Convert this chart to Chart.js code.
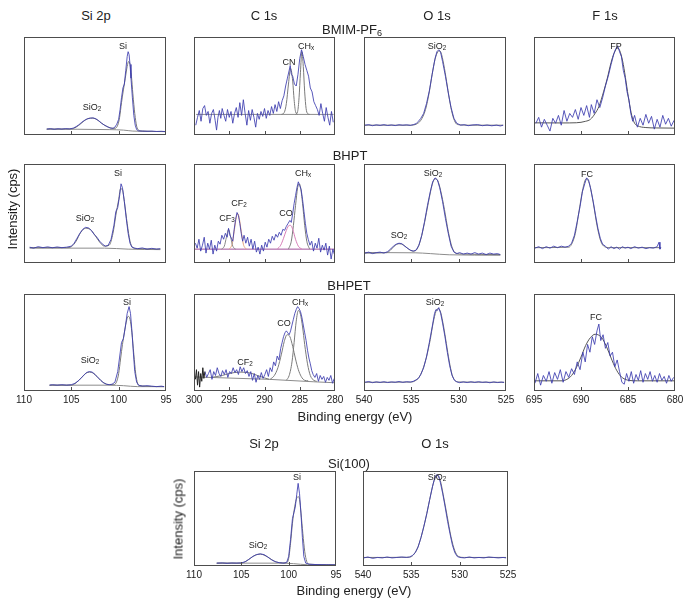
<!DOCTYPE html>
<html>
<head>
<meta charset="utf-8">
<script src="https://cdn.jsdelivr.net/npm/chart.js@4"></script>
<style>
body { margin:0; width:685px; height:601px; position:relative; background:#fff; font-family:"Liberation Sans", Arial, sans-serif; color:#222; overflow:hidden; }
canvas { position:absolute; z-index:1; }
.t { position:absolute; z-index:5; white-space:nowrap; transform:translate(-50%,-50%); line-height:1; }
.h { font-size:13px; }
.lb { font-size:9px; }
.rot { transform:translate(-50%,-50%) rotate(-90deg); color:#1a1a1a; }
sub { font-size:70%; vertical-align:-0.3em; line-height:0; }
</style>
</head>
<body>
<script>
// ---- data: [binding energy (eV), intensity (% of panel height)] ----
const si2pTicks = [110, 105, 100, 95];
const c1sTicks = [300, 295, 290, 285, 280];
const o1sTicks = [540, 535, 530, 525];
const f1sTicks = [695, 690, 685, 680];

// BMIM-PF6
const bmimSiRaw = [[107.6,6],[107.2,6.5],[106.8,5.8],[106.4,6.4],[106,6],[105.6,6.5],[105.2,6.2],[104.8,7],[104.5,8.5],[104.2,10.5],[103.9,13],[103.6,15],[103.3,16.5],[103,17.2],[102.7,17.5],[102.4,16.5],[102.1,14.5],[101.8,12],[101.5,10],[101.2,8.5],[100.9,7.2],[100.6,6.8],[100.4,8],[100.2,11],[100,16],[99.85,26],[99.7,38],[99.55,48],[99.4,52],[99.25,66],[99.1,80],[99,85],[98.9,82],[98.8,72],[98.7,58],[98.55,38],[98.4,20],[98.25,10],[98.1,5.5],[97.9,4.2],[97.5,4],[97,3.8],[96.5,4],[96,3.6],[95.5,3.8],[95.1,3.5]];
const bmimSiFit = [[107.6,6],[105,6.2],[104.5,8],[104,11.5],[103.5,15.5],[103,17.2],[102.6,17],[102.2,15],[101.8,12],[101.3,9],[100.8,7],[100.4,6.8],[100.1,10],[99.9,18],[99.7,33],[99.5,46],[99.3,58],[99.1,70],[98.95,75],[98.8,72],[98.65,60],[98.5,42],[98.3,22],[98.1,9],[97.9,5],[97.5,4],[95.1,3.5]];
const bmimSiBg = [[107.6,6],[101,5.5],[99.5,5],[98.5,4],[95.1,3.5]];

const bmimCRaw = [[299.75,10],[299.5,18],[299.25,25],[299,14],[298.75,27],[298.5,30],[298.25,20],[298,24],[297.75,12],[297.5,22],[297.25,26],[297,15],[296.8,5],[296.6,18],[296.4,25],[296.2,17],[296,27],[295.75,20],[295.5,14],[295.25,26],[295,18],[294.75,24],[294.5,12],[294.25,22],[294,28],[293.75,18],[293.5,33],[293.25,20],[293,36],[292.75,22],[292.5,10],[292.25,25],[292,15],[291.75,26],[291.5,18],[291.25,8],[291,22],[290.75,16],[290.5,24],[290.25,19],[290,27],[289.75,17],[289.5,25],[289.25,20],[289,29],[288.75,22],[288.5,31],[288.25,24],[288,34],[287.75,27],[287.5,35],[287.25,40],[287,50],[286.75,58],[286.5,66],[286.35,71],[286.2,62],[286,60],[285.75,52],[285.5,50],[285.25,62],[285,78],[284.75,87],[284.5,80],[284.25,72],[284,66],[283.75,60],[283.5,48],[283.25,44],[283,34],[282.75,30],[282.5,26],[282.25,20],[282,32],[281.75,22],[281.5,14],[281.25,28],[281,18],[280.75,10],[280.5,24],[280.25,13]];
const bmimCN = [[287.6,21],[287.2,23],[286.9,32],[286.6,52],[286.3,68],[286,55],[285.8,36],[285.6,24],[285.3,21]];
const bmimCHx = [[285.6,21],[285.3,24],[285.1,38],[284.9,64],[284.7,85],[284.5,70],[284.3,44],[284.1,27],[283.9,22],[283.6,21]];
const bmimCBg = [[299.7,21],[280.2,21]];

const bmimORaw = [[539.9,10],[539.5,10.6],[539.1,9.5],[538.7,10.4],[538.3,9.8],[537.9,10.6],[537.5,9.7],[537.1,10.3],[536.7,9.6],[536.3,10.5],[535.9,10],[535.5,10.4],[535.1,9.8],[534.8,10.6],[534.5,11.5],[534.25,14],[534,17],[533.7,22],[533.4,32],[533.1,45],[532.8,62],[532.5,78],[532.3,85],[532.1,87],[531.9,84],[531.7,75],[531.4,60],[531.1,43],[530.8,28],[530.5,17],[530.2,12],[529.8,10],[529.4,10.6],[529,9.5],[528.5,10.3],[528,10.6],[527.5,9.5],[527,10.2],[526.5,9.4],[526,10.1],[525.6,9.2],[525.3,10]];
const bmimOFit = [[540,10],[535,10],[534.5,11],[534,15],[533.5,26],[533.1,44],[532.8,62],[532.5,77],[532.2,85],[532,86],[531.8,82],[531.5,68],[531.2,50],[530.9,32],[530.6,19],[530.3,12],[530,10.5],[529,10],[525.3,10]];

const bmimFRaw = [[694.8,12],[694.5,18],[694.2,8],[693.9,16],[693.6,10],[693.3,4],[693,17],[692.7,12],[692.4,20],[692.1,10],[691.8,25],[691.5,14],[691.2,22],[690.9,18],[690.6,26],[690.3,16],[690,28],[689.7,20],[689.4,30],[689.1,18],[688.9,31],[688.6,22],[688.3,36],[688,28],[687.7,38],[687.4,50],[687.1,60],[686.8,72],[686.5,83],[686.3,88],[686.1,91],[685.9,85],[685.7,80],[685.5,66],[685.3,58],[685.1,44],[684.9,36],[684.7,22],[684.5,14],[684.3,20],[684,8],[683.7,17],[683.4,10],[683.1,21],[682.8,12],[682.5,19],[682.2,6],[681.9,16],[681.6,8],[681.3,20],[681,11],[680.7,17],[680.4,9],[680.1,15]];
const bmimFFit = [[695,12.4],[692,12.3],[690.5,12.5],[689.5,14],[689,16],[688.5,22],[688.1,29],[687.6,44],[687.2,58],[686.8,74],[686.5,83],[686.1,89],[685.8,84],[685.5,72],[685.2,54],[684.9,35],[684.6,20],[684.3,12],[684,9.5],[683.1,7.6],[682,7.2],[680,7]];

// BHPT
const bhptSiRaw = [[109.4,16],[109,15],[108.5,16.5],[108,15.5],[107.5,16.3],[107,15.4],[106.5,16.2],[106,15.5],[105.5,16],[105,17],[104.7,20],[104.4,25],[104.1,30],[103.8,34],[103.5,36],[103.2,35.5],[102.9,33],[102.6,29],[102.3,26],[102,22],[101.7,19],[101.4,17],[101.1,18],[100.8,24],[100.5,38],[100.3,52],[100.1,56],[99.9,68],[99.75,80],[99.6,76],[99.4,62],[99.2,45],[99,30],[98.8,20],[98.6,16],[98.3,15],[98,14.5],[97.5,15.2],[97,14],[96.5,14.8],[96,14],[95.6,14.5]];
const bhptSiFit = [[109.4,15.5],[105.5,15.5],[105,16.5],[104.5,22],[104,31],[103.5,35],[103,34],[102.5,28],[102,21],[101.5,17],[101,18],[100.6,30],[100.3,48],[100,64],[99.8,75],[99.6,74],[99.4,62],[99.1,40],[98.8,22],[98.5,15.5],[98,14.5],[95.6,14]];
const bhptSiBg = [[109.4,15],[101.5,15],[99,14],[95.6,13.5]];

const bhptCRaw = [[299.8,20],[299.55,15],[299.3,24],[299.05,12],[298.8,18],[298.55,26],[298.3,10],[298.05,20],[297.8,14],[297.55,23],[297.3,9],[297.05,18],[296.8,12],[296.55,22],[296.3,19],[296.05,28],[295.8,24],[295.55,30],[295.3,26],[295.1,35],[294.9,28],[294.7,25],[294.5,22],[294.3,34],[294.1,44],[293.9,51],[293.7,48],[293.5,40],[293.3,30],[293.1,22],[292.9,28],[292.65,20],[292.4,26],[292.15,17],[291.9,24],[291.65,14],[291.4,22],[291.15,11],[290.9,16],[290.65,9],[290.4,18],[290.15,12],[289.9,21],[289.65,16],[289.4,24],[289.15,20],[288.9,27],[288.65,23],[288.4,29],[288.15,26],[287.9,31],[287.65,28],[287.4,34],[287.15,33],[286.9,37],[286.65,40],[286.4,43],[286.2,41],[286,50],[285.8,60],[285.6,68],[285.4,76],[285.2,82],[285,78],[284.8,74],[284.6,64],[284.4,52],[284.2,40],[284,30],[283.8,24],[283.55,18],[283.3,22],[283.05,12],[282.8,20],[282.55,15],[282.3,25],[282.05,11],[281.8,18],[281.55,13],[281.3,20],[281.05,8],[280.8,17],[280.55,4],[280.3,14],[280.1,9]];
const bhptCF3 = [[296.1,14],[295.7,17],[295.4,26],[295.1,34],[294.8,26],[294.5,17],[294.1,14]];
const bhptCF2 = [[295,14],[294.6,19],[294.3,32],[294,46],[293.8,50],[293.6,46],[293.3,32],[293,19],[292.6,14]];
const bhptCO = [[288.2,14],[287.7,18],[287.3,25],[286.9,33],[286.5,38],[286.3,38],[286,34],[285.6,24],[285.2,17],[284.7,14]];
const bhptCHx = [[286.6,14],[286.2,22],[285.9,38],[285.6,58],[285.3,76],[285.1,80],[284.9,77],[284.6,60],[284.3,38],[284,22],[283.6,14]];
const bhptCBg = [[299.9,14],[280,14]];

const bhptORaw = [[539.9,10],[539.5,11],[539.1,9.5],[538.7,10.5],[538.3,11],[537.9,10],[537.5,11.5],[537.2,14],[536.9,17],[536.6,19],[536.3,20],[536,19.5],[535.7,17],[535.4,15],[535.1,13],[534.8,12],[534.5,13],[534.2,18],[533.9,28],[533.6,42],[533.3,58],[533,72],[532.75,82],[532.5,86],[532.25,84],[532,76],[531.7,62],[531.4,45],[531.1,30],[530.8,17],[530.5,11],[530.2,9.5],[529.9,10.5],[529.5,9],[529.1,10],[528.7,9],[528.3,10.5],[527.9,9],[527.5,10],[527.1,8.5],[526.7,10],[526.3,9],[525.9,9.5],[525.6,8.5]];
const bhptOFit = [[539.9,10],[537.6,10.5],[537.2,13],[536.8,17],[536.3,19.5],[535.8,18],[535.3,14],[534.8,12],[534.4,14],[534,24],[533.6,41],[533.2,61],[532.8,79],[532.5,85],[532.2,83],[531.9,73],[531.5,54],[531.1,32],[530.7,16],[530.3,10],[529.5,9],[525.6,8.5]];
const bhptOBg = [[539.9,10.5],[534.6,10.3],[533,9.5],[531,8.3],[525.6,7.8]];

const bhptFRaw = [[694.9,15],[694.5,16.5],[694.1,14.5],[693.7,16.5],[693.3,15],[692.9,17],[692.5,15.5],[692.1,17],[691.7,16],[691.3,17],[691,20],[690.7,28],[690.4,42],[690.1,57],[689.85,72],[689.6,80],[689.4,86],[689.2,84],[688.95,74],[688.7,62],[688.45,48],[688.2,35],[687.95,25],[687.7,19],[687.4,17],[687.1,14],[686.8,16.5],[686.5,14.5],[686.2,16],[685.9,14],[685.6,16.5],[685.3,15],[685,16],[684.7,14.5],[684.3,16.5],[683.9,15],[683.5,16],[683.1,14.5],[682.7,15.5],[682.3,15],[681.9,16.5],[681.7,21],[681.6,14],[681.5,15.5]];
const bhptFFit = [[694.9,15.5],[691.3,16],[691,19],[690.6,30],[690.2,53],[689.8,75],[689.45,85],[689.1,80],[688.7,61],[688.3,38],[687.9,22],[687.5,16.5],[687,15.5],[681.5,15.5]];

// BHPET
const bhpetSiRaw = [[107.3,6],[107,6.5],[106.5,6],[106,6.5],[105.5,6],[105,6.5],[104.6,8],[104.2,11],[103.8,15],[103.4,19],[103.1,20],[102.8,19.5],[102.5,17],[102.2,14],[101.9,11],[101.6,8.5],[101.3,7],[101,6.5],[100.7,7],[100.4,9],[100.1,20],[99.9,35],[99.7,50],[99.5,54],[99.3,66],[99.1,80],[98.9,87],[98.75,80],[98.6,62],[98.45,40],[98.3,20],[98.1,9],[97.9,6],[97.5,5],[97,5.5],[96.5,5],[96,4.5],[95.5,5],[95.2,4.5]];
const bhpetSiFit = [[107.3,6],[105,6],[104.5,8.5],[104,13],[103.5,18],[103.1,19.5],[102.7,18.5],[102.3,15],[101.9,11],[101.5,8],[101,6.5],[100.5,6.5],[100.2,10],[100,18],[99.8,33],[99.6,48],[99.4,60],[99.2,71],[99,77],[98.8,74],[98.6,60],[98.4,38],[98.2,18],[98,8],[97.8,5.5],[95.2,4.5]];
const bhpetSiBg = [[107.3,6],[101,6],[99.5,5.5],[98,4.5],[95.2,4.5]];

const bhpetCRawStart = [[299.8,12],[299.65,22],[299.5,6],[299.35,20],[299.2,4],[299.05,18],[298.9,10],[298.75,24],[298.6,13],[298.45,20]];
const bhpetCRaw = [[298.45,20],[298.2,14],[297.95,18],[297.7,22],[297.45,12],[297.2,20],[296.95,16],[296.7,24],[296.45,18],[296.2,15],[295.95,21],[295.7,17],[295.45,22],[295.2,14],[294.95,20],[294.7,18],[294.45,24],[294.2,19],[293.95,22],[293.7,17],[293.45,25],[293.2,20],[292.95,24],[292.7,18],[292.45,21],[292.2,15],[291.95,20],[291.7,11],[291.45,18],[291.2,9],[290.95,16],[290.7,12],[290.45,19],[290.2,13],[289.95,17],[289.7,22],[289.45,15],[289.2,24],[288.95,20],[288.7,30],[288.45,26],[288.2,36],[287.95,32],[287.7,44],[287.5,50],[287.3,56],[287.1,60],[286.9,62],[286.7,60],[286.5,58],[286.3,62],[286.1,68],[285.9,74],[285.7,80],[285.5,84],[285.3,87],[285.1,85],[284.9,82],[284.7,76],[284.5,68],[284.3,60],[284.1,52],[283.9,42],[283.7,34],[283.5,28],[283.3,21],[283.1,17],[282.85,14],[282.6,18],[282.35,10],[282.1,16],[281.85,12],[281.6,15],[281.35,9],[281.1,14],[280.85,11],[280.6,16],[280.35,8],[280.1,13]];
const bhpetCF2 = [[297.5,14],[296,16],[295,18],[293.5,19.5],[292,18.5],[291,16],[290,13.5],[289.3,12]];
const bhpetCO = [[289.2,12],[288.6,16],[288.1,24],[287.6,38],[287.2,51],[286.8,58],[286.4,56],[286,46],[285.6,33],[285.2,22],[284.8,15],[284.3,11],[283.8,10.5]];
const bhpetCHx = [[286.9,11],[286.5,16],[286.1,30],[285.8,50],[285.5,72],[285.2,83],[284.9,79],[284.6,66],[284.3,48],[283.9,28],[283.5,16],[283,11],[282.6,10]];
const bhpetCBg = [[299.9,14.5],[289.3,12],[283,9.5],[280,8.5]];

const bhpetORaw = [[539.9,9],[539.5,9.8],[539.1,8.6],[538.7,9.5],[538.3,8.8],[537.9,9.6],[537.5,8.7],[537.1,9.4],[536.7,9],[536.3,9.8],[535.9,8.9],[535.5,9.6],[535.1,9.2],[534.8,10],[534.5,11.5],[534.25,13],[534,17],[533.7,24],[533.4,35],[533.1,50],[532.8,66],[532.55,80],[532.4,84],[532.25,83],[532.1,86],[531.9,80],[531.7,70],[531.45,56],[531.2,40],[530.95,26],[530.7,16],[530.45,11],[530.2,9.5],[529.9,8.6],[529.5,9.4],[529.1,8.7],[528.7,9.5],[528.3,8.8],[527.9,9.6],[527.5,8.9],[527.1,9.3],[526.7,8.5],[526.3,9.4],[525.9,8.7],[525.5,9.2],[525.2,8.8]];
const bhpetOFit = [[540,9],[535,9.2],[534.6,10.5],[534.2,14],[533.8,22],[533.4,35],[533,53],[532.7,70],[532.4,82],[532.15,85],[531.9,81],[531.6,67],[531.3,49],[531,31],[530.7,17],[530.4,11],[530,9.3],[525.2,9]];

const bhpetFRaw = [[694.9,8],[694.6,18],[694.3,6],[694,16],[693.7,10],[693.4,20],[693.1,8],[692.8,19],[692.5,12],[692.2,22],[691.9,9],[691.6,20],[691.3,14],[691,23],[690.7,17],[690.4,30],[690.1,22],[689.8,40],[689.55,30],[689.3,48],[689.05,40],[688.8,56],[688.55,48],[688.3,62],[688.1,69],[687.9,52],[687.65,58],[687.4,44],[687.15,50],[686.9,36],[686.65,40],[686.4,25],[686.15,32],[685.9,20],[685.65,9],[685.4,7],[685.15,18],[684.9,10],[684.65,20],[684.4,8],[684.15,17],[683.9,11],[683.65,21],[683.4,9],[683.15,18],[682.9,12],[682.65,20],[682.4,10],[682.15,16],[681.9,9],[681.65,18],[681.4,11],[681.15,15],[680.9,8],[680.65,16],[680.4,10],[680.15,14]];
const bhpetFFit = [[695,10.5],[692,10.5],[691.5,12],[691,16],[690.5,24],[690,35],[689.5,47],[689,55],[688.5,58.5],[688.2,58],[687.8,55],[687.3,46],[686.8,34],[686.3,23],[685.8,15.5],[685.3,12],[684.8,10.8],[684,10.5],[680,10.5]];

// Si(100)
const siSiRaw = [[107.6,3],[107,3.3],[106.5,2.8],[106,3.2],[105.5,3],[105,3.3],[104.6,4.5],[104.2,7],[103.8,10],[103.4,12],[103,12.8],[102.6,12],[102.2,9.5],[101.8,6.5],[101.4,4.5],[101,3.5],[100.5,3],[100.2,4],[100,10],[99.8,28],[99.6,50],[99.45,56],[99.3,62],[99.15,75],[99,87],[98.85,76],[98.7,55],[98.55,30],[98.4,10],[98.2,3],[97.8,1.8],[97,1.5],[96,1.3],[95.1,1.2]];
const siSiFit = [[107.6,3],[105,3],[104.5,5],[104,8.5],[103.5,11.5],[103,12.5],[102.5,11],[102,8],[101.5,5],[101,3.5],[100.3,3.2],[100,8],[99.8,24],[99.6,45],[99.4,60],[99.2,70],[99,73],[98.85,70],[98.7,56],[98.5,34],[98.3,15],[98.1,5],[97.9,2],[95.1,1.2]];
const siSiBg = [[107.6,3],[101,3],[99.5,2.5],[98,1.3],[95.1,1.2]];

const siORaw = [[539.9,8.5],[539.5,9.5],[539,8],[538.5,9],[538,8.5],[537.5,9.5],[537,8.5],[536.5,9],[536,9.5],[535.5,9],[535.2,9.5],[534.9,11],[534.6,14],[534.3,20],[534,30],[533.7,42],[533.4,55],[533.1,70],[532.8,84],[532.6,92],[532.4,96],[532.2,95],[532,88],[531.75,76],[531.5,62],[531.25,47],[531,34],[530.75,22],[530.5,14],[530.25,10],[530,9],[529.5,8.5],[529,9.5],[528.5,8.5],[528,9],[527.5,8.5],[527,9.5],[526.5,9],[526,8.5],[525.5,9],[525.2,8.5]];
const siOFit = [[540,9],[535.2,9.2],[534.8,11.5],[534.4,18],[534,30],[533.6,46],[533.2,65],[532.8,84],[532.5,94],[532.3,96],[532,90],[531.7,75],[531.3,53],[530.9,31],[530.5,16],[530.1,10],[529.5,9],[525.2,9]];

// ---- styles ----
const RAW = 'rgba(60,60,175,0.85)';
const FIT = '#7a7a7a';
const BG = '#8c8c8c';

function line(data, color, smooth) {
  return {
    data: data.map(p => ({ x: p[0], y: p[1] })),
    borderColor: color, borderWidth: 1, pointRadius: 0, fill: false,
    tension: smooth ? 0.4 : 0,
    cubicInterpolationMode: smooth ? 'monotone' : 'default'
  };
}

const frame = {
  id: 'frame',
  afterDraw(chart) {
    const { ctx, chartArea: a } = chart;
    const x = chart.scales.x;
    ctx.save();
    ctx.strokeStyle = '#4d4d4d';
    ctx.lineWidth = 1;
    ctx.strokeRect(Math.round(a.left) + 0.5, Math.round(a.top) + 0.5, Math.round(a.width) - 1, Math.round(a.height) - 1);
    x.ticks.forEach(t => {
      const px = Math.round(x.getPixelForValue(t.value)) + 0.5;
      if (px < a.left + 3 || px > a.right - 3) return;
      ctx.beginPath();
      ctx.moveTo(px, a.bottom - 1);
      ctx.lineTo(px, a.bottom - 4);
      ctx.stroke();
    });
    ctx.restore();
  }
};

const AXIS_H = 16;
function panel(bx, by, bw, bh, ticks, showLabels, sets) {
  const pl = 24, pr = 24, pt = 6, pb = 6;
  const c = document.createElement('canvas');
  c.width = bw + pl + pr;
  c.height = bh + pt + AXIS_H + pb;
  c.style.left = (bx - pl) + 'px';
  c.style.top = (by - pt) + 'px';
  document.body.appendChild(c);
  new Chart(c, {
    type: 'line',
    data: { datasets: sets },
    options: {
      responsive: false, animation: false, events: [],
      layout: { padding: { left: pl, right: pr, top: pt, bottom: pb } },
      plugins: { legend: { display: false }, tooltip: { enabled: false } },
      scales: {
        x: {
          type: 'linear', reverse: true,
          min: Math.min(...ticks), max: Math.max(...ticks),
          afterBuildTicks: s => { s.ticks = ticks.map(v => ({ value: v })); },
          afterFit: s => { s.height = AXIS_H; },
          grid: { display: false, drawTicks: false },
          border: { display: false },
          ticks: { display: showLabels, padding: 3, autoSkip: false, maxRotation: 0, color: '#222', font: { family: 'Liberation Sans', size: 10 } }
        },
        y: { display: false, min: 0, max: 100 }
      }
    },
    plugins: [frame]
  });
}

// row 1: BMIM-PF6
panel(24, 37, 142, 98, si2pTicks, false, [line(bmimSiRaw, RAW), line(bmimSiFit, FIT, true), line(bmimSiBg, BG, true)]);
panel(194, 37, 141, 98, c1sTicks, false, [line(bmimCRaw, RAW), line(bmimCN, FIT, true), line(bmimCHx, FIT, true), line(bmimCBg, BG)]);
panel(364, 37, 142, 98, o1sTicks, false, [line(bmimORaw, RAW), line(bmimOFit, FIT, true)]);
panel(534, 37, 141, 98, f1sTicks, false, [line(bmimFRaw, RAW), line(bmimFFit, '#555', true)]);
// row 2: BHPT
panel(24, 164, 142, 99, si2pTicks, false, [line(bhptSiRaw, RAW), line(bhptSiFit, FIT, true), line(bhptSiBg, BG, true)]);
panel(194, 164, 141, 99, c1sTicks, false, [line(bhptCRaw, RAW), line(bhptCF3, '#888', true), line(bhptCF2, '#e4a27a', true), line(bhptCO, '#d77fb8', true), line(bhptCHx, '#7a7a7a', true), line(bhptCBg, '#a0509a')]);
panel(364, 164, 142, 99, o1sTicks, false, [line(bhptORaw, RAW), line(bhptOFit, FIT, true), line(bhptOBg, BG, true)]);
panel(534, 164, 141, 99, f1sTicks, false, [line(bhptFRaw, RAW), line(bhptFFit, FIT, true)]);
// row 3: BHPET
panel(24, 294, 142, 97, si2pTicks, true, [line(bhpetSiRaw, RAW), line(bhpetSiFit, FIT, true), line(bhpetSiBg, BG, true)]);
panel(194, 294, 141, 97, c1sTicks, true, [line(bhpetCRawStart, '#222'), line(bhpetCRaw, RAW), line(bhpetCF2, FIT, true), line(bhpetCO, FIT, true), line(bhpetCHx, FIT, true), line(bhpetCBg, BG)]);
panel(364, 294, 142, 97, o1sTicks, true, [line(bhpetORaw, RAW), line(bhpetOFit, FIT, true)]);
panel(534, 294, 141, 97, f1sTicks, true, [line(bhpetFRaw, RAW), line(bhpetFFit, '#555', true)]);
// row 4: Si(100)
panel(194, 471, 142, 95, si2pTicks, true, [line(siSiRaw, RAW), line(siSiFit, FIT, true), line(siSiBg, BG, true)]);
panel(363, 471, 145, 95, o1sTicks, true, [line(siORaw, RAW), line(siOFit, FIT, true)]);

// ---- text ----
function txt(html, x, y, cls) {
  const d = document.createElement('div');
  d.className = 't ' + cls;
  d.style.left = x + 'px';
  d.style.top = y + 'px';
  d.innerHTML = html;
  document.body.appendChild(d);
}
txt('Si 2p', 96, 15, 'h'); txt('C 1s', 264, 15, 'h'); txt('O 1s', 437, 15, 'h'); txt('F 1s', 605, 15, 'h');
txt('BMIM-PF<sub>6</sub>', 352, 29, 'h');
txt('BHPT', 350, 155, 'h');
txt('BHPET', 349, 285, 'h');
txt('Binding energy (eV)', 355, 416, 'h');
txt('Intensity (cps)', 12, 209, 'h rot');
txt('Si 2p', 264, 443, 'h'); txt('O 1s', 435, 443, 'h');
txt('Si(100)', 349, 463, 'h');
txt('Intensity (cps)', 178, 519, 'h rot');
txt('Binding energy (eV)', 354, 590, 'h');

const SIO2 = 'SiO<sub>2</sub>', CHX = 'CH<sub>x</sub>';
txt('Si', 123, 46, 'lb'); txt(SIO2, 92, 107, 'lb');
txt('CN', 289, 62, 'lb'); txt(CHX, 306, 46, 'lb');
txt(SIO2, 437, 46, 'lb');
txt('FP', 616, 46, 'lb');
txt('Si', 118, 173, 'lb'); txt(SIO2, 85, 218, 'lb');
txt('CF<sub>3</sub>', 227, 218, 'lb'); txt('CF<sub>2</sub>', 239, 203, 'lb'); txt('CO', 286, 213, 'lb'); txt(CHX, 303, 173, 'lb');
txt('SO<sub>2</sub>', 399, 235, 'lb'); txt(SIO2, 433, 173, 'lb');
txt('FC', 587, 174, 'lb');
txt('Si', 127, 302, 'lb'); txt(SIO2, 90, 360, 'lb');
txt('CF<sub>2</sub>', 245, 362, 'lb'); txt('CO', 284, 323, 'lb'); txt(CHX, 300, 302, 'lb');
txt(SIO2, 435, 302, 'lb');
txt('FC', 596, 317, 'lb');
txt('Si', 297, 477, 'lb'); txt(SIO2, 258, 545, 'lb');
txt(SIO2, 437, 477, 'lb');
</script>
</body>
</html>
